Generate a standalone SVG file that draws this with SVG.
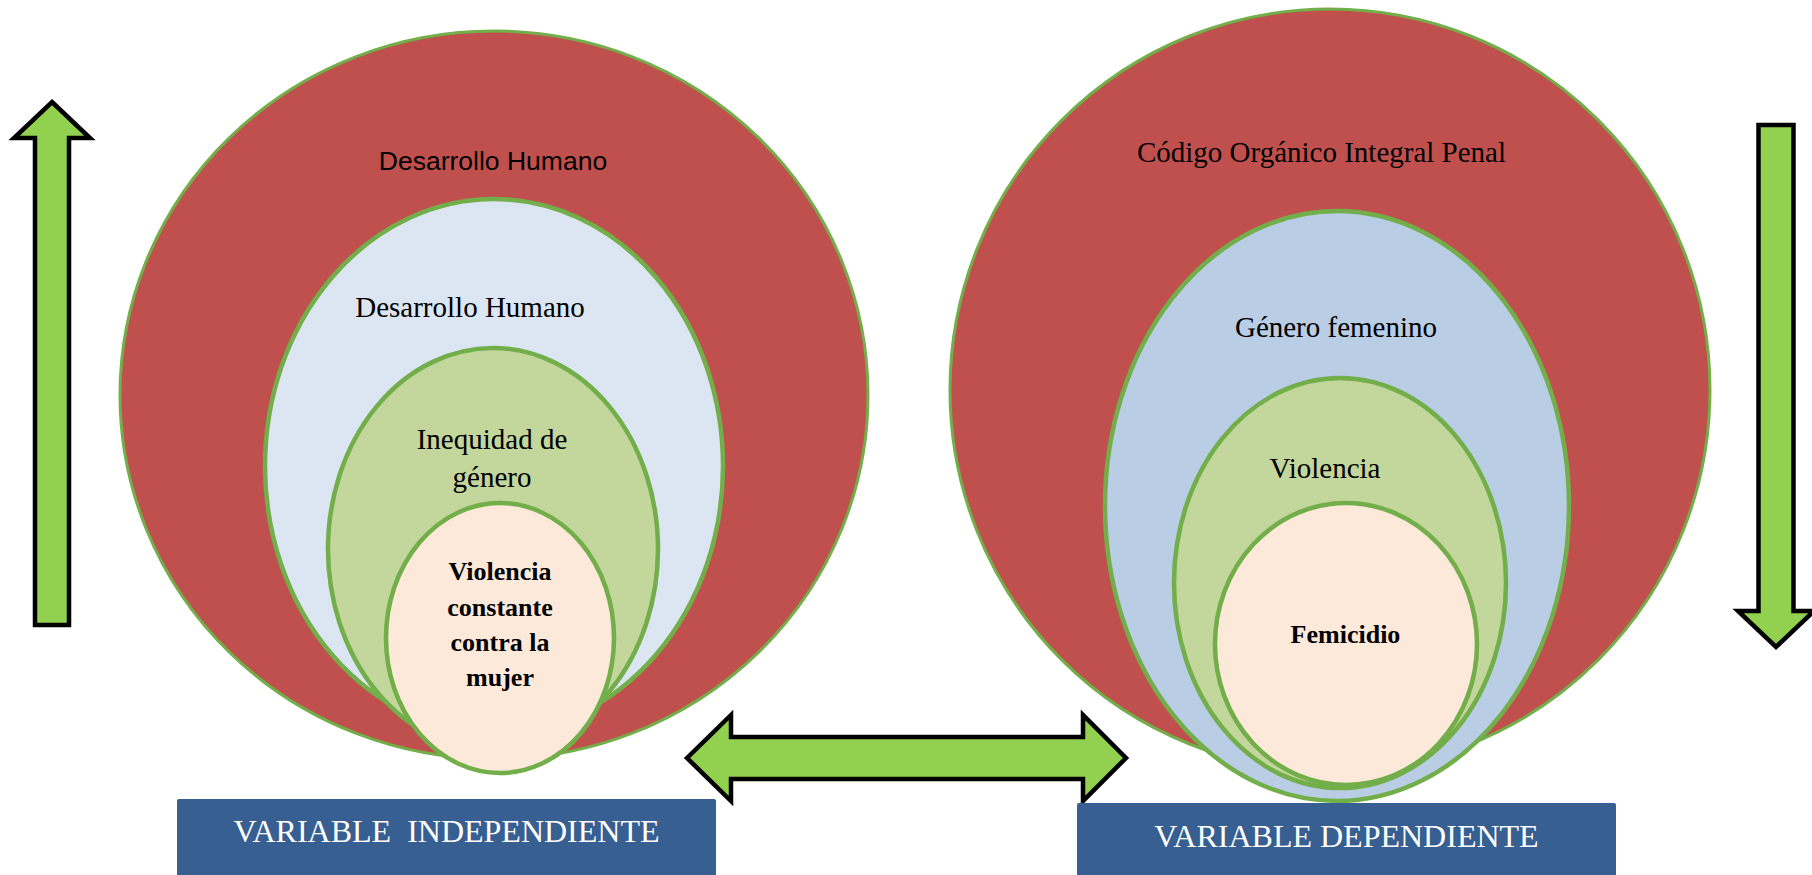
<svg xmlns="http://www.w3.org/2000/svg" width="1812" height="875" viewBox="0 0 1812 875">
<style>
.ring{stroke:#72AE49;stroke-width:4.5}
.outer{fill:#C0504D;stroke:#72AE49;stroke-width:3}
.arrow{fill:#92D050;stroke:#000;stroke-width:4.5;stroke-linejoin:miter}
.serif{font-family:"Liberation Serif","Times New Roman",serif;fill:#000}
.sans{font-family:"Liberation Sans",Arial,sans-serif;fill:#000}
.bold{font-weight:bold}
.box{fill:#375F91}
.boxtext{font-family:"Liberation Serif","Times New Roman",serif;fill:#fff;font-size:32px;white-space:pre}
</style>
<rect width="1812" height="875" fill="#fff"/>
<g id="left-set">
<ellipse class="outer" cx="494" cy="395" rx="374" ry="364"/>
<ellipse class="ring" fill="#DCE6F2" cx="494" cy="466" rx="229" ry="267"/>
<ellipse class="ring" fill="#C3D69B" cx="493" cy="549" rx="165" ry="201"/>
<ellipse class="ring" fill="#FDE9D9" cx="500" cy="638" rx="114" ry="135"/>
<text class="sans" x="493" y="170" font-size="26.5" text-anchor="middle">Desarrollo Humano</text>
<text class="serif" x="470" y="317" font-size="29" text-anchor="middle">Desarrollo Humano</text>
<text class="serif" x="492" y="449" font-size="29" text-anchor="middle">Inequidad de</text>
<text class="serif" x="492" y="487" font-size="29" text-anchor="middle">género</text>
<text class="serif bold" x="500" y="580" font-size="26" text-anchor="middle">Violencia</text>
<text class="serif bold" x="500" y="615.5" font-size="26" text-anchor="middle">constante</text>
<text class="serif bold" x="500" y="651" font-size="26" text-anchor="middle">contra la</text>
<text class="serif bold" x="500" y="686" font-size="26" text-anchor="middle">mujer</text>
</g>
<g id="right-set">
<ellipse class="outer" cx="1330" cy="390" rx="380" ry="381"/>
<ellipse class="ring" fill="#B9CDE5" cx="1337" cy="506" rx="232" ry="295"/>
<ellipse class="ring" fill="#C3D69B" cx="1340" cy="583" rx="166" ry="205"/>
<ellipse class="ring" fill="#FDE9D9" cx="1346" cy="644" rx="131" ry="141"/>
<text class="serif" x="1321.5" y="162" font-size="29" text-anchor="middle">Código Orgánico Integral Penal</text>
<text class="serif" x="1336" y="336.5" font-size="29" text-anchor="middle">Género femenino</text>
<text class="serif" x="1325" y="478" font-size="29" text-anchor="middle">Violencia</text>
<text class="serif bold" x="1345.5" y="643" font-size="26" text-anchor="middle">Femicidio</text>
</g>
<g id="connectors">
<polygon id="arrow-up" class="arrow" points="52,102 90,138 69,138 69,625 35,625 35,138 14,138"/>
<polygon id="arrow-down" class="arrow" points="1758.5,125 1793.5,125 1793.5,611 1814,611 1776,647 1738,611 1758.5,611"/>
<polygon id="arrow-both" class="arrow" points="687,758 731,715 731,737 1083,737 1083,715 1126,758 1083,801 1083,779 731,779 731,801"/>
</g>
<g id="box-independiente">
<rect class="box" x="177" y="799" width="539" height="84" rx="2"/>
<text class="boxtext" x="446.5" y="842" text-anchor="middle">VARIABLE  INDEPENDIENTE</text>
</g>
<g id="box-dependiente">
<rect class="box" x="1077" y="803" width="539" height="84" rx="2"/>
<text class="boxtext" x="1346.5" y="847" text-anchor="middle">VARIABLE DEPENDIENTE</text>
</g>
</svg>
